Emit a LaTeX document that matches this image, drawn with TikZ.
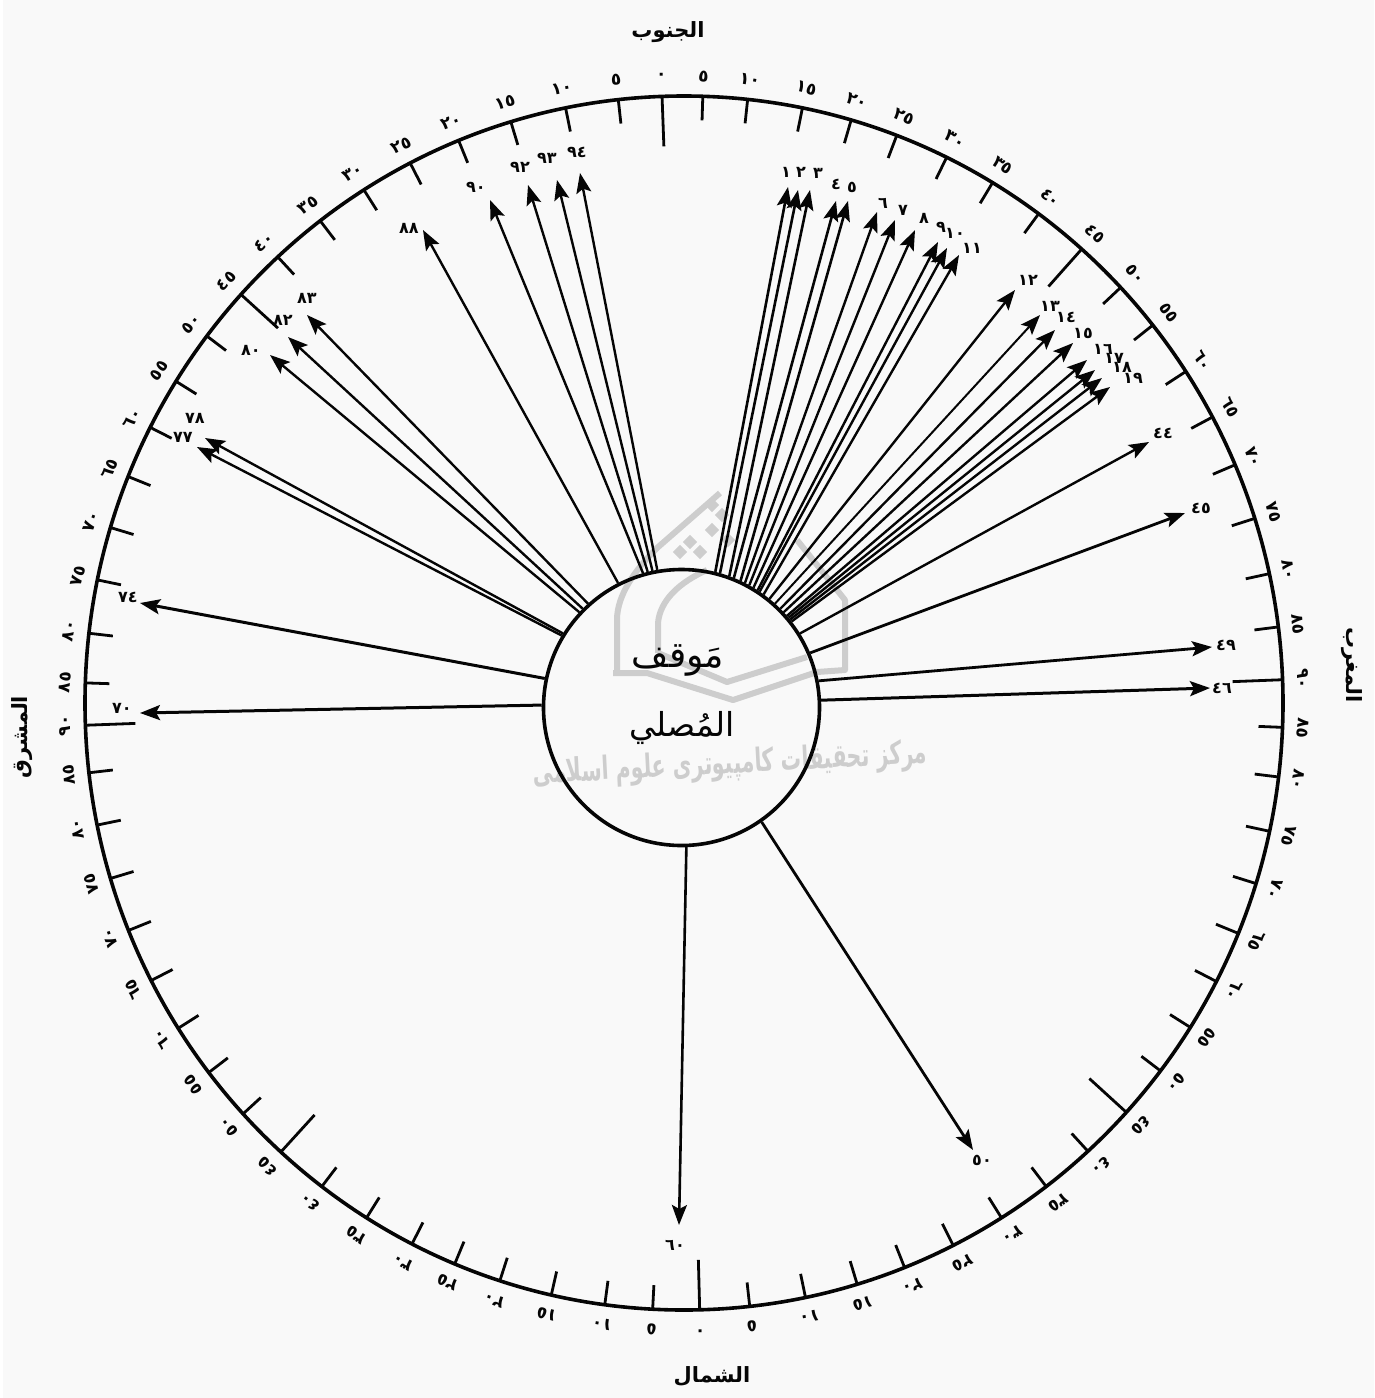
\documentclass[tikz,border=0pt]{standalone}
\usepackage{fontspec}
\usetikzlibrary{arrows.meta,shapes.geometric}
\TeXXeTstate=1
\newfontfamily\arabicfont[Script=Arabic]{DejaVu Sans}
\definecolor{paper}{HTML}{F9F9F9}
\definecolor{wmark}{HTML}{CDCDCD}
\definecolor{ink}{HTML}{050505}
\tikzset{
  ray/.style={draw=ink,line width=#1,-{Stealth[length=20pt,width=15pt,inset=4pt]}},
  ray/.default=2.4pt,
  scaletick/.style={draw=ink,line width=2.8pt},
  deg/.style={font=\arabicfont\bfseries\fontsize{17}{17}\selectfont,text=ink,inner sep=0pt},
  num/.style={font=\arabicfont\bfseries\fontsize{16}{16}\selectfont,text=ink,inner sep=0pt},
  side/.style={font=\arabicfont\bfseries\fontsize{21}{21}\selectfont,text=ink,inner sep=0pt},
  wline/.style={draw=wmark,line width=6pt,line join=round},
}
\begin{document}
\begin{tikzpicture}[x=1pt,y=-1pt]
\useasboundingbox (0,0) rectangle (1374,1398);
\fill[paper] (3,0) rectangle (1374,1398);
% watermark
\draw[wline] (613,673) -- (647,673) -- (733,700) -- (817,672) -- (845,670) -- (845,600) -- (797,540);
\draw[wline] (617,673) -- (617,620) .. controls (617,595) and (635,570) .. (657,548) -- (720,493);
\draw[wline] (658,653) -- (658,623) .. controls (660,600) and (680,582) .. (707,570);
\draw[wline] (658,653) -- (727,682) -- (807,657);
\foreach \dx/\dy in {690/542,680/552,700/552,712/530,722/515,712/505,728/540}{
  \fill[wmark,rotate around={45:(\dx,\dy)}] (\dx-5,\dy-5) rectangle (\dx+5,\dy+5);
}
\node[font=\arabicfont\bfseries\fontsize{32}{32}\selectfont,text=wmark,rotate=3,inner sep=0pt] (wm) at (730,765) {\scalebox{0.64}[1]{\beginR مرکز تحقیقات کامپیوتری علوم اسلامی\endR}};
% rim and scale
\node[draw=ink,line width=3.6pt,ellipse,minimum width=1198pt,minimum height=1214pt,inner sep=0pt] (rim) at (684,703) {};
\foreach \a/\o/\t in {0/-2.1/٠,5/-3.2/٥,10/-3.9/١٠,15/-3.6/١٥,20/-3.8/٢٠,25/-4.2/٢٥,30/-4/٣٠,35/-4/٣٥,40/-3.7/٤٠,45/-3.4/٤٥,50/-3.2/٥٠,55/-3.5/٥٥,60/-3.1/٦٠,65/-3.1/٦٥,70/-3.1/٧٠,75/-2.7/٧٥,80/-2.3/٨٠,85/-2.2/٨٥,90/-2.2/٩٠,
  95/-2.7/٨٥,100/-3/٨٠,105/-2.8/٧٥,110/-2.7/٧٠,115/-2.7/٦٥,120/-2.7/٦٠,125/-2.7/٥٥,130/-2.7/٥٠,135/-2.6/٤٥,140/-2.4/٤٠,145/-2.2/٣٥,150/-2/٣٠,155/-1.7/٢٥,160/-1.6/٢٠,165/-1.8/١٥,170/-1.7/١٠,175/-1.3/٥,
  180/-1.5/٠,185/-2/٥,190/-2.4/١٠,195/-2.2/١٥,200/-2.1/٢٠,205/-2.5/٢٥,210/-3/٣٠,215/-3/٣٥,220/-2.8/٤٠,225/-2.7/٤٥,230/-2.6/٥٠,235/-2.5/٥٥,240/-2.4/٦٠,245/-2.2/٦٥,250/-2/٧٠,255/-1.8/٧٥,260/-1.6/٨٠,265/-1.6/٨٥,270/-2.1/٩٠,
  275/-3.1/٨٥,280/-3.4/٨٠,285/-3.3/٧٥,290/-3.2/٧٠,295/-3.1/٦٥,300/-3/٦٠,305/-3/٥٥,310/-2.8/٥٠,315/-2.7/٤٥,320/-2.7/٤٠,325/-2.4/٣٥,330/-2.3/٣٠,335/-2.2/٢٥,340/-2.1/٢٠,345/-1.8/١٥,350/-1.4/١٠,355/-1.3/٥}{
  \pgfmathsetmacro\sn{sin(\a+\o)}
  \pgfmathsetmacro\cs{cos(\a+\o)}
  \pgfmathsetmacro\len{(mod(\a,45)==0)?50:24}
  \draw[scaletick] ({684+599*\sn},{703-607*\cs}) -- ({684+(599-\len)*\sn},{703-(607-\len)*\cs});
  \node[deg,rotate=-\a] (d\a) at ({684+619*\sn},{703-627*\cs}) {\t};
}
% inner disc
\node[draw=ink,line width=3.6pt,circle,minimum size=276pt,inner sep=0pt] (c) at (681.5,707.5) {};
% arrows: index / start on disc / tip / label position / label / width
\foreach \i/\sx/\sy/\tx/\ty/\lx/\ly/\lb/\w in {
  1/715/565/788/187/786/172/١/2.6pt,
  2/722/565/798/190/801/172/٢/2.6pt,
  3/730/567/810/190/818/173/٣/2.6pt,
  4/735/570/836/201/836/184/٤/2.6pt,
  5/743/572/848/201/852/187/٥/2.6pt,
  6/748/575/877/212/883/203/٦/2.4pt,
  7/752/578/895/220/903/210/٧/2.4pt,
  8/757/580/915/230/924/218/٨/2.4pt,
  9/760/582/938/242/941/227/٩/2.4pt,
  10/764/584/947/248/955/233/١٠/2.4pt,
  11/768/586/959/255/972/248/١١/2.4pt,
  12/772/592/1015/290/1028/280/١٢/2.4pt,
  13/778/598/1040/315/1050/306/١٣/2pt,
  14/783/603/1055/330/1066/317/١٤/2.4pt,
  15/787/606/1073/343/1083/333/١٥/2.4pt,
  16/790/610/1087/360/1103/349/١٦/2.4pt,
  17/792/612/1095/370/1114/358/١٧/2.4pt,
  18/794/615/1102/378/1122/367/١٨/2.4pt,
  19/796/618/1110/387/1133/378/١٩/2.4pt,
  20/805/630/1149/442/1163/433/٤٤/2.4pt,
  21/813/650/1185/513/1201/508/٤٥/2.8pt,
  22/818/680/1212/647/1226/645/٤٩/2.8pt,
  23/820/698/1210/688/1222/688/٤٦/3pt,
  24/763/825/973/1150/982/1160/٥٠/2.8pt,
  25/684/845/679/1225/675/1245/٦٠/2.6pt,
  26/541/706/140/713/122/708/٧٠/3pt,
  27/540/678/140/603/128/597/٧٤/3pt,
  28/558/635/197/447/183/437/٧٧/2.4pt,
  29/560/632/205/438/195/418/٧٨/2.4pt,
  30/578/613/270/355/251/350/٨٠/2.4pt,
  31/580/608/288/337/283/320/٨٢/2.4pt,
  32/585/602/307/315/307/298/٨٣/2.4pt,
  33/613/578/423/230/409/228/٨٨/2.4pt,
  34/640/570/490/200/476/187/٩٠/2.4pt,
  35/645/568/528/185/520/167/٩٢/2.4pt,
  36/650/568/557/180/547/158/٩٣/2.4pt,
  37/655/566/580/173/577/152/٩٤/2.4pt}{
  \pgfmathsetmacro\ang{atan2(707.5-\sy,\sx-681.5)}
  \coordinate (t\i) at (\tx,\ty);
  \draw[ray=\w] (c.\ang) -- (t\i);
  \node[num] (lab\i) at (\lx,\ly) {\lb};
}
% centre text
\node[font=\arabicfont\fontsize{36}{36}\selectfont,text=ink,inner sep=0pt] (t1) at (678,660) {\beginR مَوقف\endR};
\node[font=\arabicfont\fontsize{33}{33}\selectfont,text=ink,inner sep=0pt] (t2) at (682,728) {\beginR المُصلي\endR};
% compass words
\node[side] (south) at (668,32) {\beginR الجنوب\endR};
\node[side] (north) at (712,1376) {\beginR الشمال\endR};
\node[side,rotate=-90] (west) at (1352,665) {\beginR المغرب\endR};
\node[side,rotate=90] (east) at (22,737) {\beginR المشرق\endR};
\end{tikzpicture}
\end{document}
